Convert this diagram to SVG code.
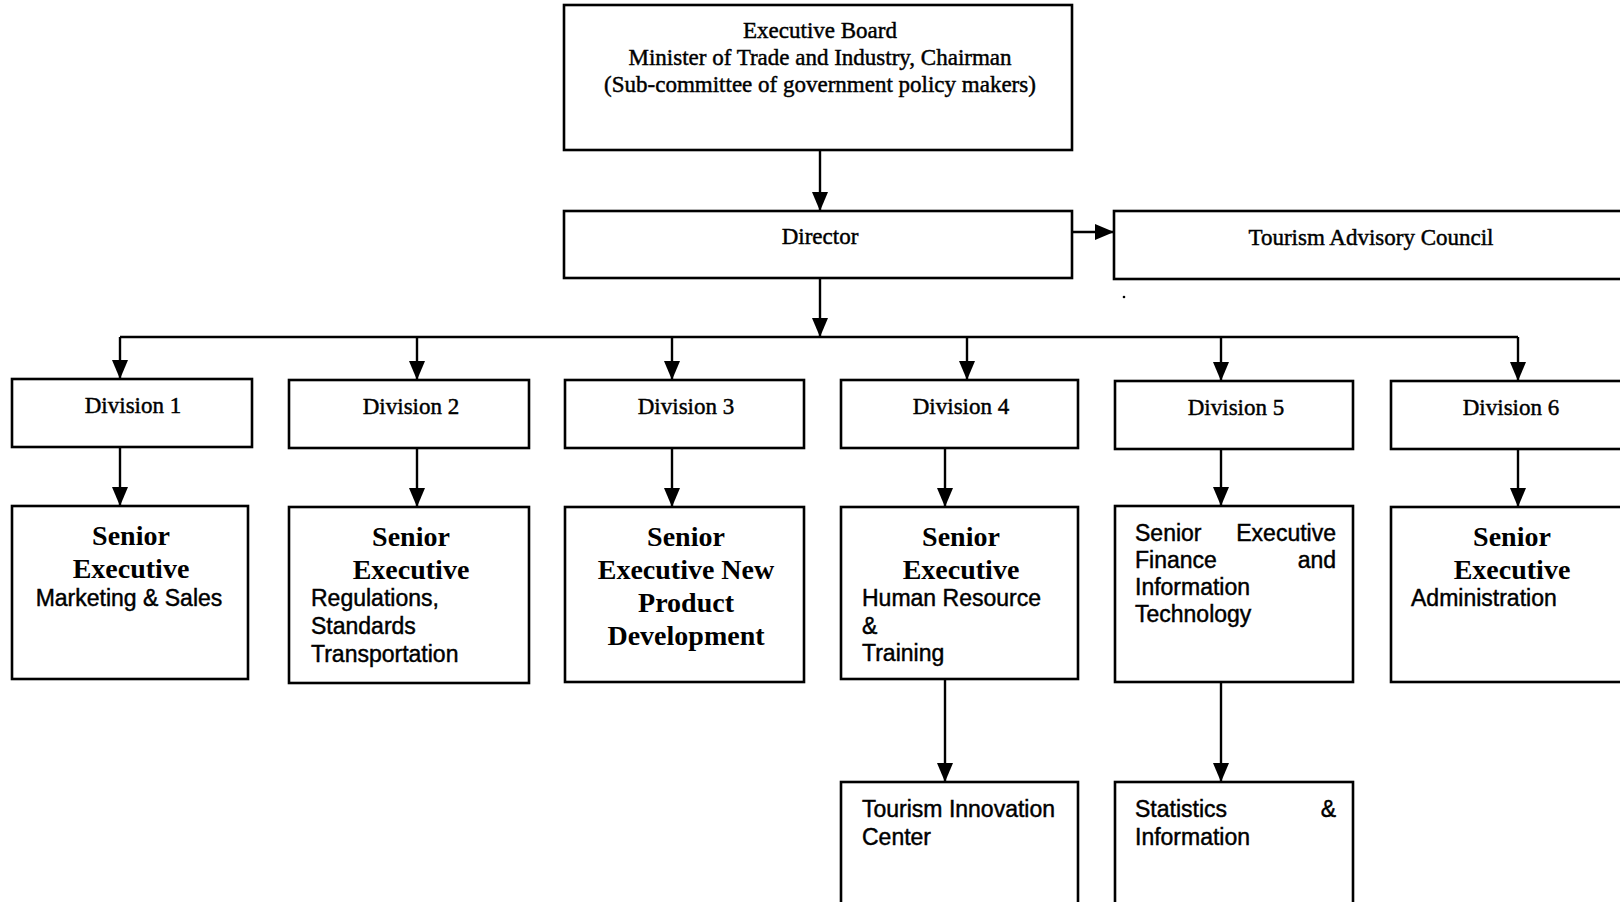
<svg xmlns="http://www.w3.org/2000/svg" width="1620" height="902" viewBox="0 0 1620 902">
<style>
.box{fill:#fff;stroke:#000;stroke-width:2.6}
.t{font-family:"Liberation Serif","Times New Roman",serif;font-size:23px;fill:#000;stroke:#000;stroke-width:0.45}
.tb{font-family:"Liberation Serif","Times New Roman",serif;font-size:28px;font-weight:bold;fill:#000}
.s{font-family:"Liberation Sans",Arial,sans-serif;font-size:23px;fill:#000;stroke:#000;stroke-width:0.45}
.c{text-anchor:middle}
.ln{stroke:#000;stroke-width:2.4;fill:none}
</style>
<defs>
<marker id="ah" viewBox="0 0 19 16" refX="19" refY="8" markerWidth="19" markerHeight="16" markerUnits="userSpaceOnUse" orient="auto">
<path d="M0,0 L19,8 L0,16 z" fill="#000"/>
</marker>
</defs>
<rect width="1620" height="902" fill="#fff"/>

<g id="connectors">
<line class="ln" x1="820" y1="150" x2="820" y2="211" marker-end="url(#ah)"/>
<line class="ln" x1="1072" y1="232" x2="1114" y2="232" marker-end="url(#ah)"/>
<line class="ln" x1="820" y1="278" x2="820" y2="337" marker-end="url(#ah)"/>
<line class="ln" x1="120" y1="337" x2="1518" y2="337"/>
<line class="ln" x1="120" y1="337" x2="120" y2="379" marker-end="url(#ah)"/>
<line class="ln" x1="417" y1="337" x2="417" y2="380" marker-end="url(#ah)"/>
<line class="ln" x1="672" y1="337" x2="672" y2="380" marker-end="url(#ah)"/>
<line class="ln" x1="967" y1="337" x2="967" y2="380" marker-end="url(#ah)"/>
<line class="ln" x1="1221" y1="337" x2="1221" y2="381" marker-end="url(#ah)"/>
<line class="ln" x1="1518" y1="337" x2="1518" y2="381" marker-end="url(#ah)"/>
<line class="ln" x1="120" y1="447" x2="120" y2="506" marker-end="url(#ah)"/>
<line class="ln" x1="417" y1="448" x2="417" y2="507" marker-end="url(#ah)"/>
<line class="ln" x1="672" y1="448" x2="672" y2="507" marker-end="url(#ah)"/>
<line class="ln" x1="945" y1="448" x2="945" y2="507" marker-end="url(#ah)"/>
<line class="ln" x1="1221" y1="449" x2="1221" y2="506" marker-end="url(#ah)"/>
<line class="ln" x1="1518" y1="449" x2="1518" y2="507" marker-end="url(#ah)"/>
<line class="ln" x1="945" y1="679" x2="945" y2="782" marker-end="url(#ah)"/>
<line class="ln" x1="1221" y1="682" x2="1221" y2="782" marker-end="url(#ah)"/>
</g>

<g id="executive-board">
<rect class="box" x="564" y="5" width="508" height="145"/>
<text class="t c" x="820" y="38">Executive Board</text>
<text class="t c" x="820" y="65">Minister of Trade and Industry, Chairman</text>
<text class="t c" x="820" y="92">(Sub-committee of government policy makers)</text>
</g>

<g id="director">
<rect class="box" x="564" y="211" width="508" height="67"/>
<text class="t c" x="820" y="244">Director</text>
</g>

<g id="tourism-advisory-council">
<rect class="box" x="1114" y="211" width="520" height="68"/>
<text class="t c" x="1371" y="245">Tourism Advisory Council</text>
<circle cx="1124" cy="297" r="1.3" fill="#000"/>
</g>

<g id="division-1">
<rect class="box" x="12" y="379" width="240" height="68"/>
<text class="t c" x="133" y="413">Division 1</text>
</g>
<g id="division-2">
<rect class="box" x="289" y="380" width="240" height="68"/>
<text class="t c" x="411" y="414">Division 2</text>
</g>
<g id="division-3">
<rect class="box" x="565" y="380" width="239" height="68"/>
<text class="t c" x="686" y="414">Division 3</text>
</g>
<g id="division-4">
<rect class="box" x="841" y="380" width="237" height="68"/>
<text class="t c" x="961" y="414">Division 4</text>
</g>
<g id="division-5">
<rect class="box" x="1115" y="381" width="238" height="68"/>
<text class="t c" x="1236" y="415">Division 5</text>
</g>
<g id="division-6">
<rect class="box" x="1391" y="381" width="240" height="68"/>
<text class="t c" x="1511" y="415">Division 6</text>
</g>

<g id="senior-1">
<rect class="box" x="12" y="506" width="236" height="173"/>
<text class="tb c" x="131" y="545">Senior</text>
<text class="tb c" x="131" y="578">Executive</text>
<text class="s c" x="129" y="606">Marketing &amp; Sales</text>
</g>
<g id="senior-2">
<rect class="box" x="289" y="507" width="240" height="176"/>
<text class="tb c" x="411" y="546">Senior</text>
<text class="tb c" x="411" y="579">Executive</text>
<text class="s" x="311" y="606">Regulations,</text>
<text class="s" x="311" y="634">Standards</text>
<text class="s" x="311" y="662">Transportation</text>
</g>
<g id="senior-3">
<rect class="box" x="565" y="507" width="239" height="175"/>
<text class="tb c" x="686" y="546">Senior</text>
<text class="tb c" x="686" y="579">Executive New</text>
<text class="tb c" x="686" y="612">Product</text>
<text class="tb c" x="686" y="645">Development</text>
</g>
<g id="senior-4">
<rect class="box" x="841" y="507" width="237" height="172"/>
<text class="tb c" x="961" y="546">Senior</text>
<text class="tb c" x="961" y="579">Executive</text>
<text class="s" x="862" y="606">Human Resource</text>
<text class="s" x="862" y="634">&amp;</text>
<text class="s" x="862" y="661">Training</text>
</g>
<g id="senior-5">
<rect class="box" x="1115" y="506" width="238" height="176"/>
<text class="s"><tspan x="1135" y="541">Senior</tspan><tspan x="1336" y="541" text-anchor="end">Executive</tspan><tspan x="1135" y="568">Finance</tspan><tspan x="1336" y="568" text-anchor="end">and</tspan><tspan x="1135" y="595">Information</tspan><tspan x="1135" y="622">Technology</tspan></text>
</g>
<g id="senior-6">
<rect class="box" x="1391" y="507" width="240" height="175"/>
<text class="tb c" x="1512" y="546">Senior</text>
<text class="tb c" x="1512" y="579">Executive</text>
<text class="s" x="1411" y="606">Administration</text>
</g>

<g id="tourism-innovation-center">
<rect class="box" x="841" y="782" width="237" height="130"/>
<text class="s" x="862" y="817">Tourism Innovation</text>
<text class="s" x="862" y="845">Center</text>
</g>
<g id="statistics-information">
<rect class="box" x="1115" y="782" width="238" height="130"/>
<text class="s"><tspan x="1135" y="817">Statistics</tspan><tspan x="1336" y="817" text-anchor="end">&amp;</tspan><tspan x="1135" y="845">Information</tspan></text>
</g>
</svg>
